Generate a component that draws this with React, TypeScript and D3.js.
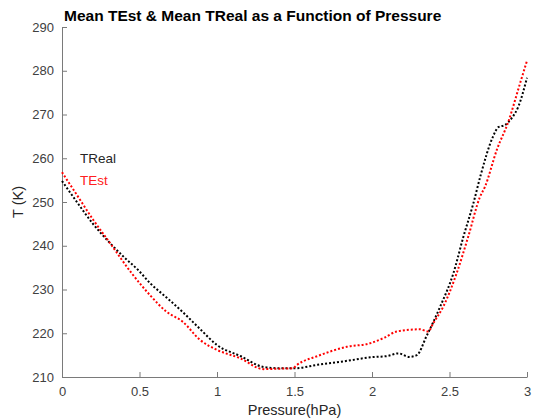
import React, { useEffect, useRef } from "react";
import * as d3 from "d3";

// Mean real temperature vs pressure
const realPressure = [0, 0.1, 0.2, 0.31, 0.4, 0.49, 0.57, 0.68, 0.78, 0.89, 1.0, 1.15, 1.3, 1.4, 1.5, 1.65, 1.84, 1.99, 2.1, 2.17, 2.24, 2.29, 2.35, 2.44, 2.525, 2.59, 2.654, 2.7, 2.78, 2.815, 2.858, 2.9, 2.944, 3.0];
const realTemp = [254.8, 249.8, 245.0, 240.6, 237.4, 234.5, 231.4, 228.0, 224.8, 221.0, 217.3, 214.8, 212.3, 212.0, 212.0, 212.8, 213.7, 214.5, 214.8, 215.4, 214.6, 215.0, 219.2, 226.1, 233.7, 242.1, 249.7, 256.0, 264.9, 267.1, 267.6, 269.1, 271.8, 278.4];

// Mean estimated temperature vs pressure
const estPressure = [0, 0.1, 0.2, 0.31, 0.45, 0.568, 0.675, 0.78, 0.89, 1.0, 1.148, 1.3, 1.4, 1.49, 1.514, 1.65, 1.837, 1.987, 2.08, 2.16, 2.31, 2.363, 2.395, 2.46, 2.546, 2.621, 2.697, 2.729, 2.805, 2.88, 2.955, 3.0];
const estTemp = [256.8, 251.4, 246.0, 240.6, 233.7, 228.7, 224.9, 222.6, 218.5, 216.2, 214.3, 211.8, 211.9, 212.0, 212.7, 214.8, 216.9, 217.7, 219.0, 220.4, 220.9, 220.4, 222.3, 226.1, 233.7, 242.1, 251.2, 253.5, 261.9, 268.4, 277.1, 282.3];

const xTicks = [0, 0.5, 1, 1.5, 2, 2.5, 3];
const yTicks = [210, 220, 230, 240, 250, 260, 270, 280, 290];

const W = 534;
const H = 419;
const left = 62;
const right = 527;
const top = 27;
const bottom = 377;
const FONT = "'Liberation Sans', Arial, Helvetica, sans-serif";

export default function App() {
  const xRef = useRef<SVGGElement>(null);
  const yRef = useRef<SVGGElement>(null);

  const x = d3.scaleLinear().domain([0, 3]).range([left, right]);
  const y = d3.scaleLinear().domain([210, 290]).range([bottom, top]);

  useEffect(() => {
    document.body.style.margin = "0";
    const xa = d3
      .axisBottom(x)
      .tickValues(xTicks)
      .tickFormat((d) => String(d))
      .tickSizeInner(-5)
      .tickSizeOuter(0)
      .tickPadding(10);
    const ya = d3
      .axisLeft(y)
      .tickValues(yTicks)
      .tickFormat((d) => String(d))
      .tickSizeInner(-5)
      .tickSizeOuter(0)
      .tickPadding(8);
    const style = (g: d3.Selection<SVGGElement, unknown, null, undefined>) => {
      g.selectAll("path").attr("stroke", "#7a7a7a");
      g.selectAll("line").attr("stroke", "#7a7a7a");
      g.selectAll("text")
        .attr("fill", "#404040")
        .style("font-family", FONT)
        .style("font-size", "13px");
      g.attr("font-family", null).attr("font-size", null);
    };
    if (xRef.current) d3.select(xRef.current).call(xa).call(style);
    if (yRef.current) d3.select(yRef.current).call(ya).call(style);
  }, []);

  const line = d3
    .line<[number, number]>()
    .x((d) => x(d[0]))
    .y((d) => y(d[1]))
    .curve(d3.curveMonotoneX);

  const realPts = realPressure.map((p, i) => [p, realTemp[i]] as [number, number]);
  const estPts = estPressure.map((p, i) => [p, estTemp[i]] as [number, number]);

  return (
    <svg
      width={W}
      height={H}
      style={{ position: "absolute", left: 0, top: 0, background: "#fff" }}
    >
      <g ref={xRef} transform={`translate(0,${bottom})`} />
      <g ref={yRef} transform={`translate(${left},0)`} />
      <path
        d={line(realPts) || ""}
        fill="none"
        stroke="#000"
        strokeWidth={2}
        strokeDasharray="2 2"
      />
      <path
        d={line(estPts) || ""}
        fill="none"
        stroke="#ff0000"
        strokeWidth={2}
        strokeDasharray="2 2"
      />
      <text x={80} y={163} fontFamily={FONT} fontSize={13.5} fill="#262626">
        TReal
      </text>
      <text x={80} y={185} fontFamily={FONT} fontSize={13.5} fill="#ff2020">
        TEst
      </text>
      <text
        x={64}
        y={21}
        fontFamily={FONT}
        fontSize={15.5}
        fontWeight="bold"
        fill="#000"
      >
        Mean TEst &amp; Mean TReal as a Function of Pressure
      </text>
      <text
        x={(left + right) / 2}
        y={415}
        textAnchor="middle"
        fontFamily={FONT}
        fontSize={14.5}
        fill="#262626"
      >
        Pressure(hPa)
      </text>
      <text
        transform={`translate(23,${(top + bottom) / 2}) rotate(-90)`}
        textAnchor="middle"
        fontFamily={FONT}
        fontSize={14.5}
        fill="#262626"
      >
        T (K)
      </text>
    </svg>
  );
}
